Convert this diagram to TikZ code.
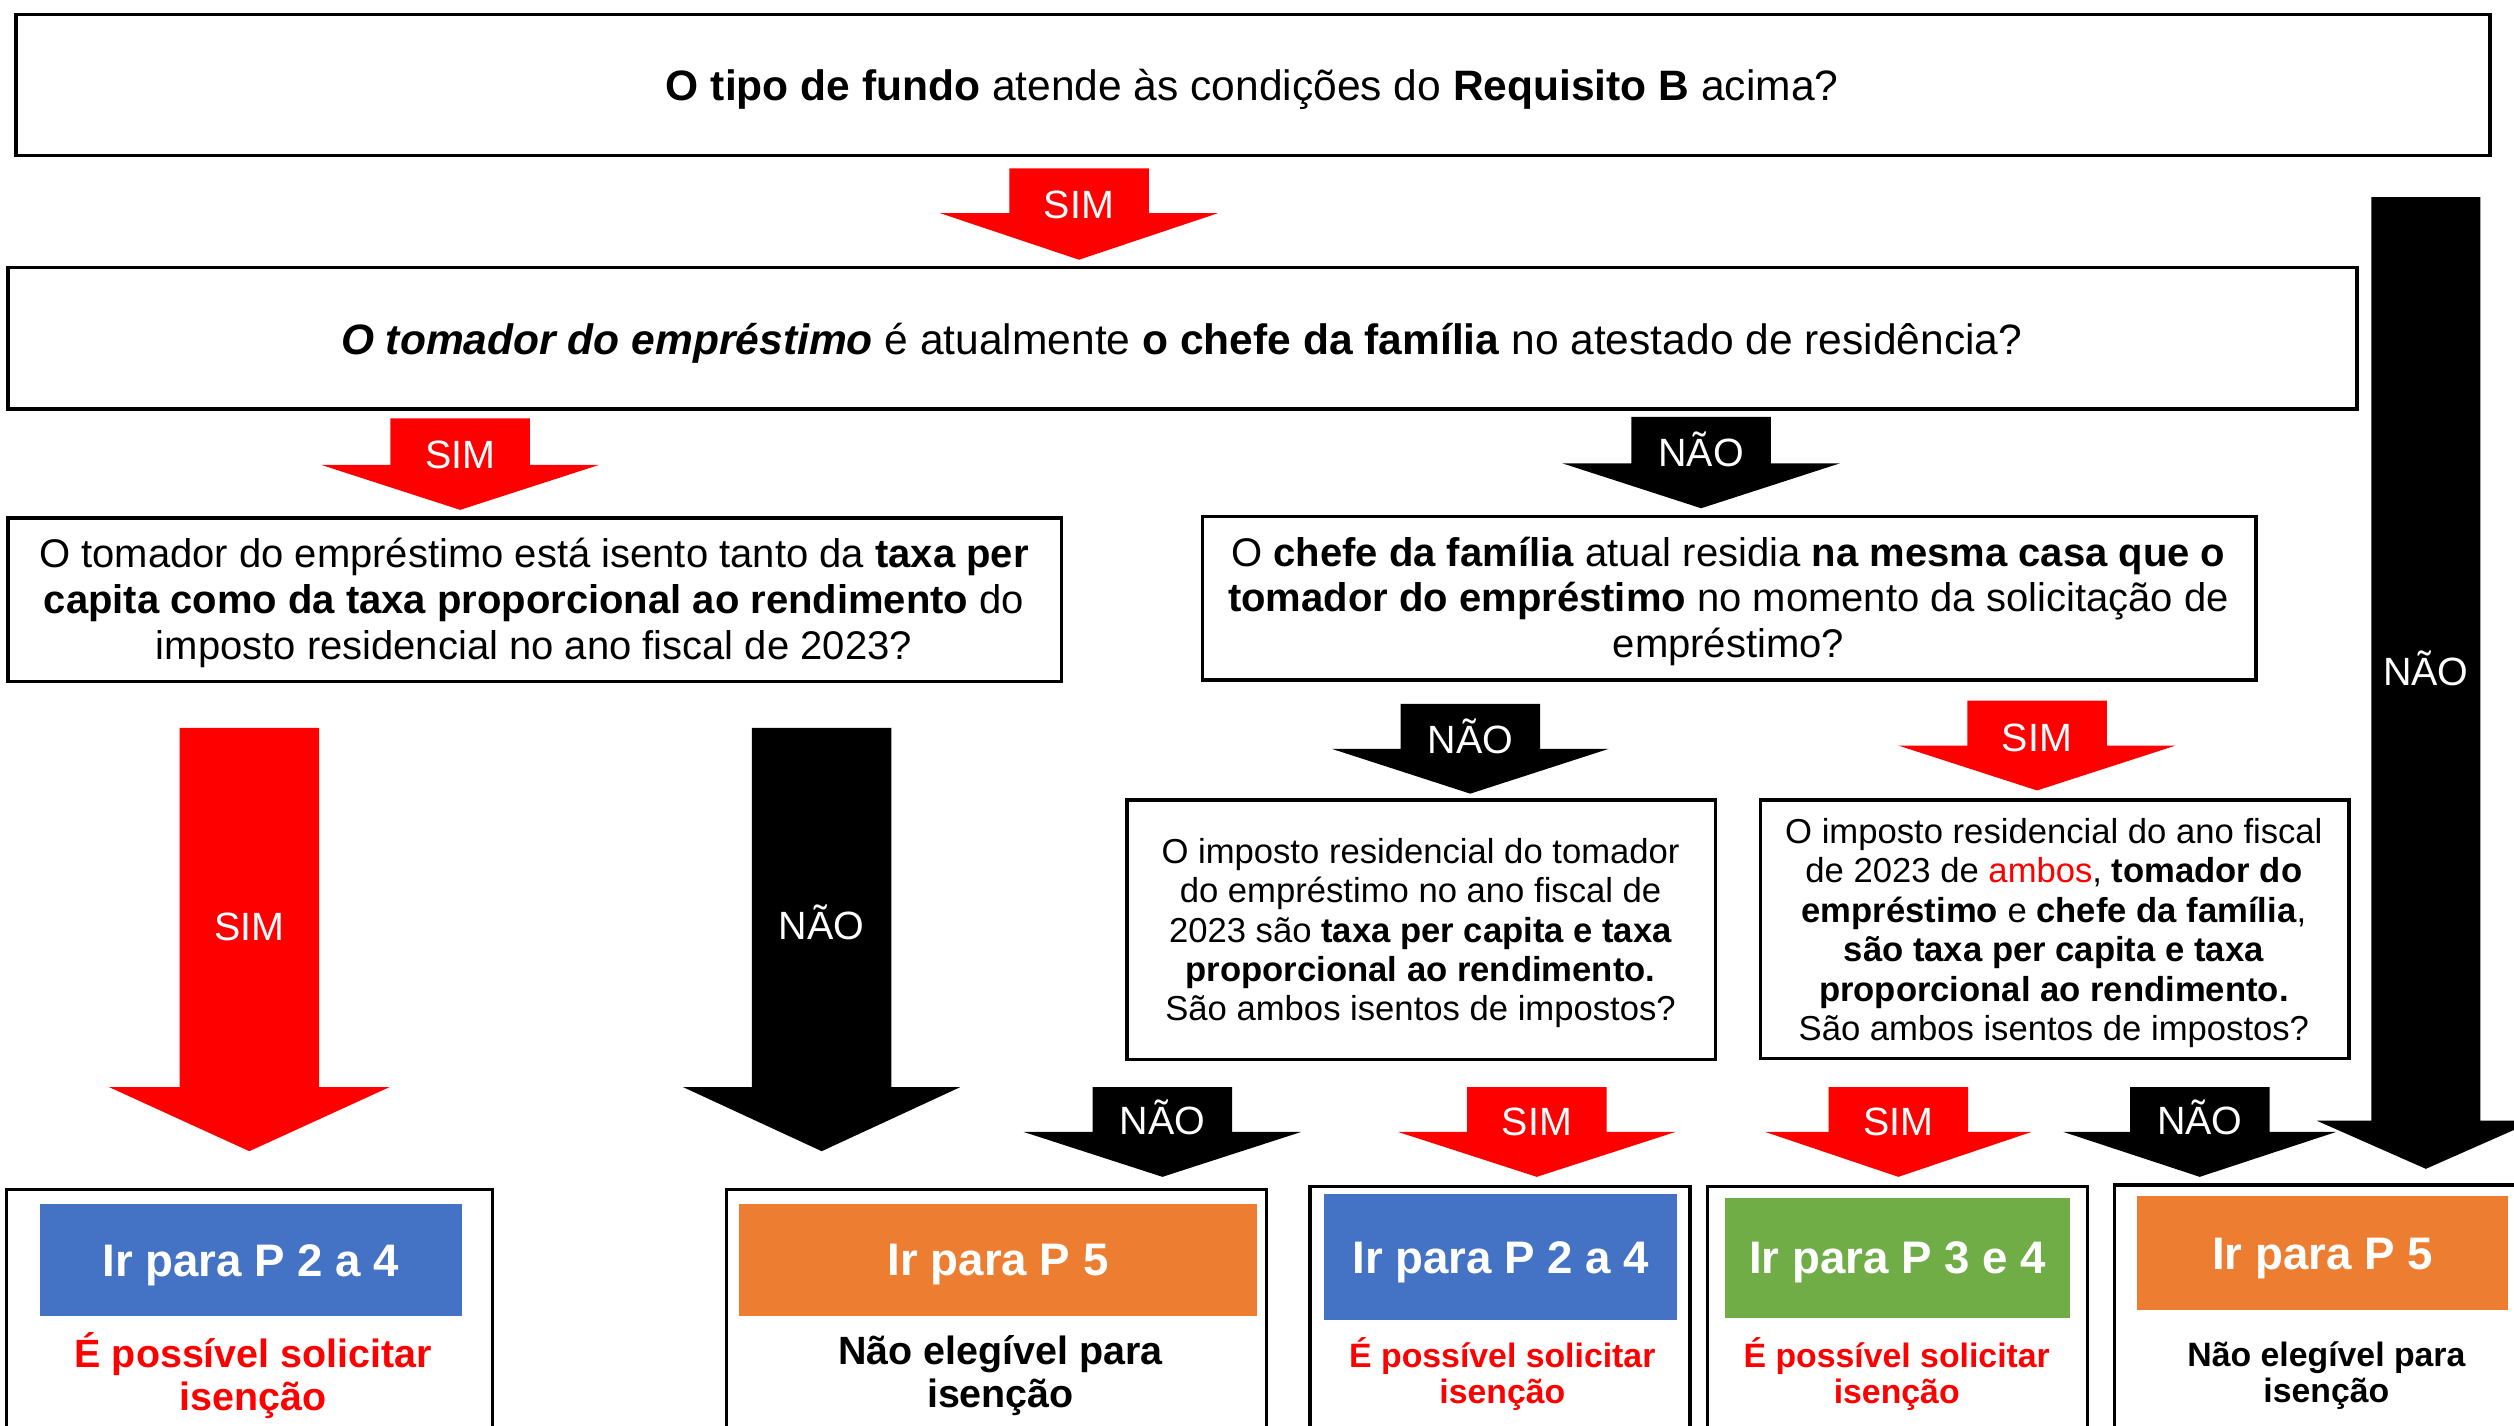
\documentclass[tikz,border=0pt]{standalone}
\usepackage{fontspec}
\setmainfont{Liberation Sans}
\usepackage{xcolor}
\definecolor{irblue}{HTML}{4472C4}
\definecolor{irorange}{HTML}{ED7D31}
\definecolor{irgreen}{HTML}{70AD47}
\newcommand{\simcolor}{red}
\newcommand{\naocolor}{black}
\newcommand{\bodyw}{43.5}
\newcommand{\headw}{86.5}
% block arrow: colour, centre x, top, head start, tip, body half width, head half width
\newcommand{\barrow}[7]{%
  \fill[#1] (#2-#6,#3) -- (#2+#6,#3) -- (#2+#6,#4) -- (#2+#7,#4) -- (#2,#5) -- (#2-#7,#4) -- (#2-#6,#4) -- cycle;}

\begin{document}
\begin{tikzpicture}[x=0.02cm, y=-0.02cm,
    frame/.style={draw=black, line width=1.2pt},
    qbig/.style={font=\fontsize{15.1}{18}\selectfont},
    qmid/.style={font=\fontsize{14.2}{16.2}\selectfont, align=center},
    qsmall/.style={font=\fontsize{12.3}{14}\selectfont, align=center},
    arrowlabel/.style={text=white, font=\fontsize{14}{16}\selectfont},
    irtitle/.style={text=white, font=\bfseries\fontsize{16.2}{19}\selectfont},
    okbig/.style={text=red, font=\bfseries\fontsize{14}{15.3}\selectfont, align=center},
    okfine/.style={text=red, font=\bfseries\fontsize{12}{13}\selectfont, align=center},
    nobig/.style={text=black, font=\bfseries\fontsize{14}{15.3}\selectfont, align=center},
    nofine/.style={text=black, font=\bfseries\fontsize{12}{13}\selectfont, align=center}]
    \useasboundingbox (0,0) rectangle (1568,889);
    \clip (0,0) rectangle (1568,889);

    % question boxes
    \draw[frame] (10,9) rectangle (1553,97);
    \draw[frame] (5,167) rectangle (1470,255);
    \draw[frame] (5,323) rectangle (662,425);
    \draw[frame] (750,322) rectangle (1407,424);
    \draw[frame] (703,499) rectangle (1070,661);
    \draw[frame] (1098,499) rectangle (1465,660);

    % result boxes
    \draw[frame] (4,742) rectangle (307,900);
    \draw[frame] (453,742) rectangle (790,900);
    \draw[frame] (817,740) rectangle (1054,900);
    \draw[frame] (1065,740) rectangle (1302,900);
    \draw[frame] (1319,739) rectangle (1580,900);
    \fill[irblue] (25,751) rectangle (288,821);
    \fill[irorange] (461,751) rectangle (784,821);
    \fill[irblue] (826,745) rectangle (1046,823);
    \fill[irgreen] (1076,747) rectangle (1291,822);
    \fill[irorange] (1333,746) rectangle (1564,817);

    % arrows
    \barrow{\simcolor}{673}{105}{133}{162}{\bodyw}{\headw}
    \barrow{\simcolor}{287}{261}{290}{318}{\bodyw}{\headw}
    \barrow{\naocolor}{1061}{260}{289}{317}{\bodyw}{\headw}
    \barrow{\naocolor}{1513}{123}{699}{729}{34}{68}
    \barrow{\simcolor}{155.5}{454}{678}{718}{\bodyw}{87.5}
    \barrow{\naocolor}{512.5}{454}{678}{718}{\bodyw}{\headw}
    \barrow{\naocolor}{917}{439}{467}{495}{\bodyw}{\headw}
    \barrow{\simcolor}{1270.5}{437}{465}{493}{\bodyw}{\headw}
    \barrow{\naocolor}{725}{678}{706}{734}{\bodyw}{\headw}
    \barrow{\simcolor}{958.5}{678}{706}{734}{\bodyw}{\headw}
    \barrow{\simcolor}{1184}{678}{706}{734}{\bodyw}{83}
    \barrow{\naocolor}{1372}{678}{706}{734}{\bodyw}{85}

    % labels
    \node[qbig] (q1) at (781,56) {\textbf{O tipo de fundo} atende às condições do \textbf{Requisito B} acima?};
    \node[qbig] (q2) at (737,214) {\textbf{\textit{O tomador do empréstimo}} é atualmente \textbf{o chefe da família} no atestado de residência?};
    \node[qmid] (q3) at (333,376) {O tomador do empréstimo está isento tanto da \textbf{taxa per}\\
      \textbf{capita como da taxa proporcional ao rendimento} do\\
      imposto residencial no ano fiscal de 2023?};
    \node[qmid] (q4) at (1078,375) {O \textbf{chefe da família} atual residia \textbf{na mesma casa que o}\\
      \textbf{tomador do empréstimo} no momento da solicitação de\\
      empréstimo?};
    \node[qsmall] (q5) at (886,582) {O imposto residencial do tomador\\
      do empréstimo no ano fiscal de\\
      2023 são \textbf{taxa per capita e taxa}\\
      \textbf{proporcional ao rendimento.}\\
      São ambos isentos de impostos?};
    \node[qsmall] (q6) at (1281,582) {O imposto residencial do ano fiscal\\
      de 2023 de \textcolor{red}{ambos}, \textbf{tomador do}\\
      \textbf{empréstimo} e \textbf{chefe da família},\\
      \textbf{são taxa per capita e taxa}\\
      \textbf{proporcional ao rendimento.}\\
      São ambos isentos de impostos?};

    \node[arrowlabel] (s1) at (673,128) {SIM};
    \node[arrowlabel] (s2) at (287,284) {SIM};
    \node[arrowlabel] (n1) at (1061,280) {NÃO};
    \node[arrowlabel] (n2) at (1513,417) {NÃO};
    \node[arrowlabel] (s3) at (155.5,578) {SIM};
    \node[arrowlabel] (n3) at (512.5,575) {NÃO};
    \node[arrowlabel] (n4) at (917,459) {NÃO};
    \node[arrowlabel] (s4) at (1270.5,460) {SIM};
    \node[arrowlabel] (n5) at (725,697) {NÃO};
    \node[arrowlabel] (s5) at (958.5,700) {SIM};
    \node[arrowlabel] (s6) at (1184,700) {SIM};
    \node[arrowlabel] (n6) at (1372,697) {NÃO};

    \node[irtitle] (r1) at (156.5,789) {Ir para P 2 a 4};
    \node[irtitle] (r2) at (622.5,789) {Ir para P 5};
    \node[irtitle] (r3) at (936,787) {Ir para P 2 a 4};
    \node[irtitle] (r4) at (1183.5,787) {Ir para P 3 e 4};
    \node[irtitle] (r5) at (1448.5,785) {Ir para P 5};
    \node[okbig] (t1) at (158,858) {É possível solicitar\\isenção};
    \node[nobig] (t2) at (624,858) {Não elegível para\\isenção};
    \node[okfine] (t3) at (937,857) {É possível solicitar\\isenção};
    \node[okfine] (t4) at (1183,857) {É possível solicitar\\isenção};
    \node[nofine] (t5) at (1451,858) {Não elegível para\\isenção};
\end{tikzpicture}
\end{document}
